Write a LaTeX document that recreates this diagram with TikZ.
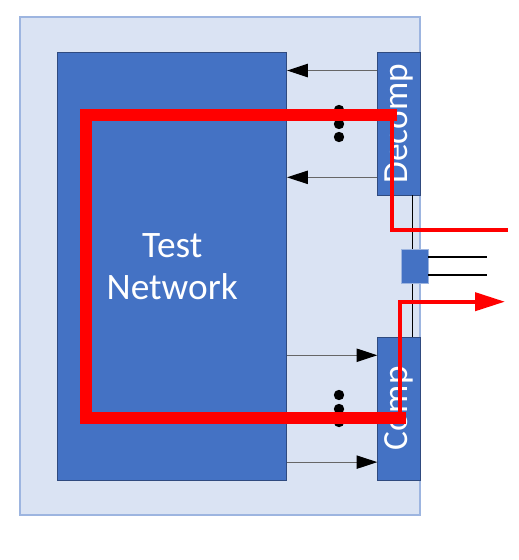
\documentclass[tikz,border=0pt]{standalone}
\usepackage{fontspec}
\setmainfont{Carlito}
\usetikzlibrary{arrows.meta}
\tikzset{every picture/.style={line width=0.75pt}}
\definecolor{chipfill}{HTML}{DAE3F3}
\definecolor{chipline}{HTML}{9DB5E0}
\definecolor{blockfill}{HTML}{4472C4}
\definecolor{blockline}{HTML}{2F4A7F}
\tikzset{
  chip/.style={draw=chipline, line width=1.2pt, fill=chipfill, inner sep=0pt},
  block/.style={draw=blockline, line width=0.6pt, fill=blockfill, inner sep=0pt, text=white, font=\fontsize{28}{31.5}\selectfont},
  blocklabel/.style={rotate=90, text=white, font=\fontsize{26.5}{31}\selectfont},
  wire/.style={draw=black!60, line width=0.8pt, -{Triangle[length=15.5pt, width=10pt, black]}},
  dot/.style={circle, fill=black, inner sep=0pt, minimum size=7.8pt},
  scanpath/.style={draw=red, line width=8.5pt, line join=miter},
  scanwire/.style={draw=red, line width=3pt, line join=miter},
}

\begin{document}
\begin{tikzpicture}[x=0.75pt,y=0.75pt,yscale=-1,xscale=1]
\useasboundingbox (0,0) rectangle (518,560);

%Shape: chip outline
\node [chip, minimum width=300pt, minimum height=373.5pt] (chip) at (220,266) {};
%Shape: test network
\node [block, minimum width=171.75pt, minimum height=320.5pt, align=center] (test) at (172.2,266.3) {Test\\Network};
%Shape: decompressor
\node [block, minimum width=31.7pt, minimum height=106.7pt] (decomp) at (398.8,123.8) {};
\node [blocklabel] (decomplbl) at (decomp.center) {Decomp};
%Shape: compactor
\node [block, minimum width=31.7pt, minimum height=107.25pt] (comp) at (398.8,408.5) {};
\node [blocklabel] (complbl) at (comp.center) {Comp};

%Straight Lines: bus between decomp and comp
\coordinate (bus) at (412.7,266);
\draw [line width=0.9pt] (bus |- decomp.south) -- (bus |- comp.north);
%Shape: pin mux
\node [draw=chipline, line width=0.6pt, fill=blockfill, minimum width=20.25pt, minimum height=25.5pt, inner sep=0pt] (mux) at (414.5,266) {};
\draw [line width=1.3pt] ([yshift=6.75pt]mux.east) -- ++(59,0) coordinate (pina);
\draw [line width=1.3pt] ([yshift=-6.75pt]mux.east) -- ++(59,0) coordinate (pinb);

%Arrows: decomp -> test, test -> comp
\draw [wire] ([yshift=13.7pt]decomp.north west) -- ([yshift=13.7pt]decomp.north west -| test.east);
\draw [wire] ([yshift=-13.5pt]decomp.south west) -- ([yshift=-13.5pt]decomp.south west -| test.east);
\draw [wire] ([yshift=14pt]comp.north west -| test.east) -- ([yshift=14pt]comp.north west);
\draw [wire] ([yshift=-13.7pt]comp.south west -| test.east) -- ([yshift=-13.7pt]comp.south west);

%Dots
\foreach \y [count=\i] in {110,124,137} {
  \node [dot] (dtop\i) at (339,\y) {};
}
\foreach \y [count=\i] in {395,409,422} {
  \node [dot] (dbot\i) at (339,\y) {};
}

%Scan chain path
\coordinate (sin) at (508,230);
\coordinate (sout) at (505,301.7);
\coordinate (chaintop) at (397,115);
\coordinate (chainbot) at (406,418);
\draw [scanpath] (chaintop) -- (86,115) -- (86,418) -- (chainbot);
\draw [scanwire] (391.7,113) -- (391.7,230) -- (sin);
\draw [scanwire, -{Triangle[length=22.5pt, width=13.5pt]}] (400,420) -- (400,301.7) -- (sout);

\end{tikzpicture}
\end{document}
